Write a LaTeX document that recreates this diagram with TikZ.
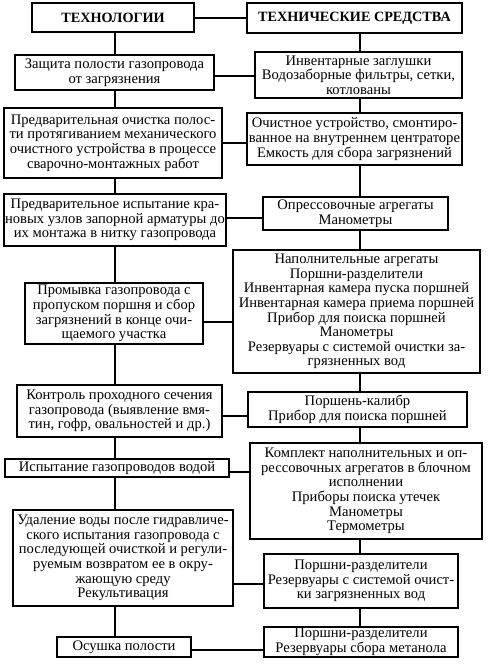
\documentclass[tikz,border=0pt]{standalone}
\usepackage{fontspec}
\setmainfont{Liberation Serif}
\newcommand\txtfont{\fontsize{14.6}{14.6}\selectfont}
\newcommand\ttlfont{\fontsize{14.2}{14}\selectfont\bfseries}
\tikzset{
  box/.style={draw, line width=1.3pt, inner sep=0pt, align=center, font=\txtfont},
  ttl/.style={draw, line width=2.6pt, inner sep=0pt, align=center, font=\ttlfont},
  conn/.style={line width=1.3pt}
}
\newcommand\bx[7]{\node[#1, minimum width={(#5-#3)*1pt}, minimum height={(#6-#4)*1pt}] (#2) at ({(#3+#5)/2},{-(#4+#6)/2}) {#7};}
\begin{document}
\begin{tikzpicture}[x=1pt,y=1pt]
\useasboundingbox (0,0) rectangle (490,-670);
% left column
\bx{ttl}{T1}{32}{3}{194}{32}{ТЕХНОЛОГИИ}
\bx{box}{L1}{15}{55}{214}{90}{Защита полости газопровода\\от загрязнения}
\bx{box}{L2}{4}{108}{222}{178}{Предварительная очистка полос-\\ти протягиванием механического\\очистного устройства в процессе\\сварочно-монтажных работ}
\bx{box}{L3}{4}{194}{226}{246}{Предварительное испытание кра-\\новых узлов запорной арматуры до\\их монтажа в нитку газопровода}
\bx{box}{L4}{25}{283}{203}{344}{Промывка газопровода с\\пропуском поршня и сбор\\загрязнений в конце очи-\\щаемого участка}
\bx{box}{L5}{17}{385}{222}{437}{Контроль проходного сечения\\газопровода (выявление вмя-\\тин, гофр, овальностей и др.)}
\bx{box}{L6}{5}{459}{229}{477}{Испытание газопроводов водой}
\bx{box}{L7}{13}{510}{233}{606}{Удаление воды после гидравличе-\\ского испытания газопровода с\\последующей очисткой и регули-\\руемым возвратом ее в окру-\\жающую среду\\Рекультивация}
\bx{box}{L8}{57}{637}{191}{657}{Осушка полости}
% right column
\bx{ttl}{T2}{247}{3}{462}{33}{ТЕХНИЧЕСКИЕ СРЕДСТВА}
\bx{box}{R1}{255}{52}{462}{98}{Инвентарные заглушки\\Водозаборные фильтры, сетки,\\котлованы}
\bx{box}{R2}{247}{113}{462}{165}{Очистное устройство, смонтиро-\\ванное на внутреннем центраторе\\Емкость для сбора загрязнений}
\bx{box}{R3}{263}{197}{448}{230}{Опрессовочные агрегаты\\Манометры}
\bx{box}{R4}{233}{250}{480}{373}{Наполнительные агрегаты\\Поршни-разделители\\Инвентарная камера пуска поршней\\Инвентарная камера приема поршней\\Прибор для поиска поршней\\Манометры\\Резервуары с системой очистки за-\\грязненных вод}
\bx{box}{R5}{248}{392}{467}{427}{Поршень-калибр\\Прибор для поиска поршней}
\bx{box}{R6}{250}{443}{482}{539}{Комплект наполнительных и оп-\\рессовочных агрегатов в блочном\\исполнении\\Приборы поиска утечек\\Манометры\\Термометры}
\bx{box}{R7}{264}{554}{458}{608}{Поршни-разделители\\Резервуары с системой очист-\\ки загрязненных вод}
\bx{box}{R8}{264}{627}{458}{657}{Поршни-разделители\\Резервуары сбора метанола}
% spines
\coordinate (sl) at (115,0);
\coordinate (sr) at (360,0);
\foreach \a/\b in {T1/L1,L1/L2,L2/L3,L3/L4,L4/L5,L5/L6,L6/L7,L7/L8}
  \draw[conn] (\a.south -| sl) -- (\b.north -| sl);
\foreach \a/\b in {T2/R1,R1/R2,R2/R3,R3/R4,R4/R5,R5/R6,R6/R7,R7/R8}
  \draw[conn] (\a.south -| sr) -- (\b.north -| sr);
% horizontal links
\foreach \a/\b/\y in {T1/T2/18,L1/R1/76,L2/R2/143,L3/R3/218,L4/R4/322,L5/R5/416,L6/R6/472,L7/R7/584,L8/R8/650}
  \draw[conn] (\a.east |- 0,-\y) -- (\b.west |- 0,-\y);
\end{tikzpicture}
\end{document}
